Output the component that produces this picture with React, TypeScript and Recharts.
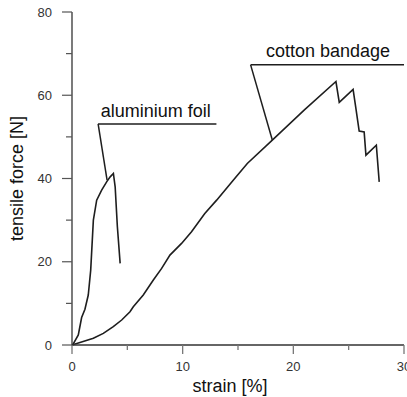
import { LineChart, Line, XAxis, YAxis, ReferenceLine, ReferenceDot } from "recharts"

const aluminiumFoil = [
  { x: 0, y: 0 },
  { x: 0.1, y: 0.2 },
  { x: 0.57, y: 2.4 },
  { x: 0.87, y: 6.6 },
  { x: 1.17, y: 8.6 },
  { x: 1.47, y: 12 },
  { x: 1.69, y: 18 },
  { x: 1.93, y: 30 },
  { x: 2.23, y: 34.8 },
  { x: 2.68, y: 37.2 },
  { x: 3.13, y: 39.2 },
  { x: 3.45, y: 40.4 },
  { x: 3.74, y: 41.2 },
  { x: 3.9, y: 38 },
  { x: 4.1, y: 28.4 },
  { x: 4.35, y: 19.6 },
]

const cottonBandage = [
  { x: 0, y: 0 },
  { x: 0.72, y: 0.6 },
  { x: 1.93, y: 1.6 },
  { x: 2.83, y: 2.8 },
  { x: 3.73, y: 4.4 },
  { x: 4.49, y: 6 },
  { x: 5.24, y: 8 },
  { x: 5.54, y: 9.2 },
  { x: 6.44, y: 12 },
  { x: 7.35, y: 15.6 },
  { x: 8.1, y: 18.4 },
  { x: 8.85, y: 21.6 },
  { x: 9.9, y: 24.4 },
  { x: 10.8, y: 27.2 },
  { x: 12, y: 31.6 },
  { x: 13.07, y: 34.8 },
  { x: 14.57, y: 39.6 },
  { x: 15.84, y: 43.6 },
  { x: 18.1, y: 49.2 },
  { x: 21, y: 56.5 },
  { x: 23.85, y: 63.3 },
  { x: 24.15, y: 58.3 },
  { x: 25.4, y: 61.4 },
  { x: 25.65, y: 56.9 },
  { x: 25.95, y: 51.4 },
  { x: 26.4, y: 51.2 },
  { x: 26.56, y: 45.6 },
  { x: 27.5, y: 48 },
  { x: 27.76, y: 39.2 },
]

const xTicks = [0, 5, 10, 15, 20, 25, 30]
const xLabelled = [0, 10, 20, 30]
const yTicks = [0, 10, 20, 30, 40, 50, 60, 70, 80]
const yLabelled = [0, 20, 40, 60, 80]

// leader lines + labels, in data units
const aluLeader = [
  { x: 13.05, y: 53.1 },
  { x: 2.36, y: 53.1 },
  { x: 3.17, y: 39.6 },
]
const cottonLeader = [
  { x: 30, y: 67.3 },
  { x: 16.14, y: 67.3 },
  { x: 18.1, y: 49.25 },
]
const aluLabel = { x: 7.57, y: 56.4, text: "aluminium foil" }
const cottonLabel = { x: 23.13, y: 70.8, text: "cotton bandage" }

const FONT = '"Liberation Sans", Arial, sans-serif'
const INK = "#1e1e1e"

const XTick = ({ x, y, payload }: any) => {
  const major = xLabelled.includes(payload.value)
  return (
    <g>
      <line x1={x} y1={y} x2={x} y2={y + (major ? 9 : 5)} stroke="#777" strokeWidth={1.3} />
      {major && (
        <text x={x} y={y + 26} textAnchor="middle" fontSize={13} fill="#333" fontFamily={FONT}>
          {payload.value}
        </text>
      )}
    </g>
  )
}

const YTick = ({ x, y, payload }: any) => {
  const major = yLabelled.includes(payload.value)
  return (
    <g>
      <line x1={x} y1={y} x2={x - (major ? 10 : 6)} y2={y} stroke="#555" strokeWidth={1.2} />
      {major && (
        <text x={x - 20} y={y + 4.7} textAnchor="end" fontSize={13} fill="#333" fontFamily={FONT}>
          {payload.value}
        </text>
      )}
    </g>
  )
}

const textLabel = (text: string) => ({
  value: text,
  position: "center" as const,
  fontSize: 18,
  fill: "#111",
  fontFamily: FONT,
})

export default function App() {
  return (
    <div style={{ position: "absolute", left: 0, top: 0, background: "#fff" }}>
      <LineChart
        width={407}
        height={397}
        margin={{ top: 12, right: 3, bottom: 0, left: 0 }}
        style={{ fontFamily: FONT }}
      >
        <XAxis
          type="number"
          dataKey="x"
          domain={[0, 30]}
          ticks={xTicks}
          interval={0}
          height={52}
          tickSize={0}
          tickMargin={0}
          tickLine={false}
          tick={<XTick />}
          axisLine={{ stroke: "#333", strokeWidth: 1.3 }}
          label={{
            value: "strain [%]",
            position: "insideBottom",
            offset: 5,
            dx: -8,
            fontSize: 18,
            fill: "#111",
            fontFamily: FONT,
          }}
        />
        <YAxis
          type="number"
          dataKey="y"
          domain={[0, 80]}
          ticks={yTicks}
          interval={0}
          width={72}
          tickSize={0}
          tickMargin={0}
          tickLine={false}
          tick={<YTick />}
          axisLine={{ stroke: "#333", strokeWidth: 1.3 }}
          label={{
            value: "tensile force [N]",
            angle: -90,
            position: "insideLeft",
            offset: 17,
            fontSize: 18,
            fill: "#111",
            fontFamily: FONT,
            style: { textAnchor: "middle" },
          }}
        />
        <Line
          data={cottonBandage}
          dataKey="y"
          type="linear"
          stroke={INK}
          strokeWidth={1.6}
          dot={false}
          isAnimationActive={false}
        />
        <Line
          data={aluminiumFoil}
          dataKey="y"
          type="linear"
          stroke={INK}
          strokeWidth={1.6}
          dot={false}
          isAnimationActive={false}
        />
        <ReferenceLine segment={[aluLeader[0], aluLeader[1]]} stroke={INK} strokeWidth={1.5} ifOverflow="visible" />
        <ReferenceLine segment={[aluLeader[1], aluLeader[2]]} stroke={INK} strokeWidth={1.5} ifOverflow="visible" />
        <ReferenceLine segment={[cottonLeader[0], cottonLeader[1]]} stroke={INK} strokeWidth={1.5} ifOverflow="visible" />
        <ReferenceLine segment={[cottonLeader[1], cottonLeader[2]]} stroke={INK} strokeWidth={1.5} ifOverflow="visible" />
        <ReferenceDot x={aluLabel.x} y={aluLabel.y} r={0} stroke="none" fill="none" label={textLabel(aluLabel.text)} />
        <ReferenceDot x={cottonLabel.x} y={cottonLabel.y} r={0} stroke="none" fill="none" label={textLabel(cottonLabel.text)} />
      </LineChart>
    </div>
  )
}
